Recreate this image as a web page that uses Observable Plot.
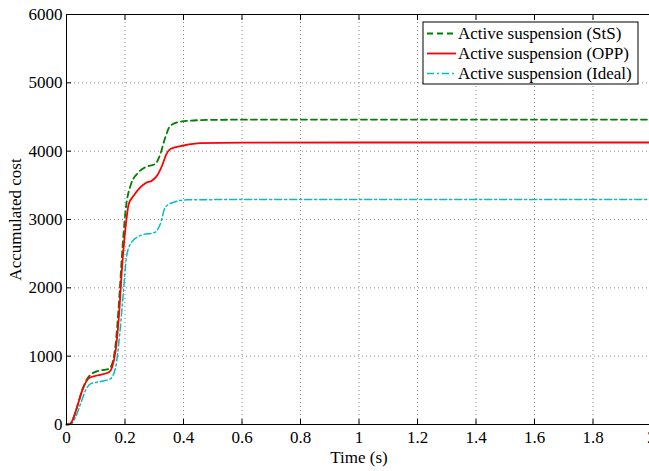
<!DOCTYPE html>
<html>
<head>
<meta charset="utf-8">
<script src="https://cdn.jsdelivr.net/npm/d3@7"></script>
<script src="https://cdn.jsdelivr.net/npm/@observablehq/plot@0.6"></script>
<style>
  html, body { margin: 0; padding: 0; background: #fff; overflow: hidden; }
  #chart svg { overflow: visible; }
</style>
</head>
<body>
<div id="chart"></div>
<script>
// ---- data ----
const stsTime = [0, 0.01, 0.017, 0.036, 0.054, 0.076, 0.105, 0.145, 0.156, 0.168, 0.179, 0.19, 0.202, 0.219, 0.247, 0.27, 0.304, 0.321, 0.338, 0.356, 0.401, 0.492, 0.7, 2.0];
const stsCost = [0, 5, 34, 255, 510, 700, 780, 815, 888, 1181, 1766, 2498, 3132, 3498, 3693, 3766, 3815, 3961, 4205, 4376, 4439, 4458, 4462, 4463];

const oppTime = [0, 0.01, 0.017, 0.036, 0.054, 0.076, 0.105, 0.145, 0.156, 0.168, 0.179, 0.19, 0.202, 0.213, 0.23, 0.253, 0.27, 0.293, 0.31, 0.327, 0.342, 0.356, 0.401, 0.458, 0.6, 1.0, 2.0];
const oppCost = [0, 5, 34, 253, 500, 678, 717, 765, 839, 1083, 1570, 2302, 2888, 3230, 3351, 3473, 3532, 3571, 3644, 3790, 3961, 4035, 4083, 4117, 4125, 4127, 4127];

const idealTime = [0, 0.015, 0.031, 0.048, 0.065, 0.082, 0.116, 0.15, 0.168, 0.182, 0.194, 0.205, 0.219, 0.253, 0.304, 0.321, 0.338, 0.367, 0.413, 0.6, 2.0];
const idealCost = [0, 5, 107, 303, 498, 595, 629, 668, 839, 1327, 1912, 2449, 2644, 2766, 2815, 2937, 3181, 3254, 3288, 3292, 3293];

const seriesNames = ["Active suspension (StS)", "Active suspension (OPP)", "Active suspension (Ideal)"];
const xTicks = [0, 0.2, 0.4, 0.6, 0.8, 1, 1.2, 1.4, 1.6, 1.8, 2];
const yTicks = [0, 1000, 2000, 3000, 4000, 5000, 6000];
const xLabel = "Time (s)";
const yLabel = "Accumulated cost";

// ---- build ----
const toRows = (t, c) => t.map((x, i) => ({x, y: c[i]}));
const sts = toRows(stsTime, stsCost);
const opp = toRows(oppTime, oppCost);
const ideal = toRows(idealTime, idealCost);

const styles = [
  {stroke: "#008000", dash: "6,4", width: 1.8},
  {stroke: "#ff0000", dash: null, width: 1.8},
  {stroke: "#00bfbf", dash: "7,3,2,3", width: 1.5}
];

const FONT = "Liberation Serif";

const chart = Plot.plot({
  width: 649,
  height: 471,
  marginLeft: 66, marginTop: 14, marginBottom: 47, marginRight: 0,
  x: {domain: [0, 2], range: [66, 651]},
  y: {domain: [0, 6000], range: [424, 14]},
  marks: [
    Plot.gridX(xTicks.slice(1, -1), {stroke: "#888", strokeOpacity: 1, strokeDasharray: "1,3", strokeWidth: 1}),
    Plot.gridY(yTicks.slice(1, -1), {stroke: "#888", strokeOpacity: 1, strokeDasharray: "1,3", strokeWidth: 1}),
    Plot.line(ideal, {x: "x", y: "y", stroke: styles[2].stroke, strokeWidth: styles[2].width, strokeDasharray: styles[2].dash, curve: "monotone-x"}),
    Plot.line(sts, {x: "x", y: "y", stroke: styles[0].stroke, strokeWidth: styles[0].width, strokeDasharray: styles[0].dash, curve: "monotone-x"}),
    Plot.line(opp, {x: "x", y: "y", stroke: styles[1].stroke, strokeWidth: styles[1].width, curve: "monotone-x"}),
    Plot.frame({stroke: "#000", strokeWidth: 1}),
    Plot.axisX(xTicks, {anchor: "bottom", tickSize: -5, tickPadding: 11, label: null, tickFormat: d => String(d), fontSize: 17}),
    Plot.axisX(xTicks, {anchor: "top", tickSize: -5, label: null, tickFormat: () => ""}),
    Plot.axisY(yTicks, {anchor: "left", tickSize: -5, tickPadding: 9, label: null, tickFormat: d => String(d), fontSize: 17}),
    Plot.text([xLabel], {x: () => 1.0, y: () => 0, lineAnchor: "top", dy: 26, fontSize: 17, fill: "#000"}),
    Plot.text([yLabel], {x: () => 0, y: () => 3000, rotate: -90, dx: -51, fontSize: 17, fill: "#000"})
  ]
});

document.getElementById("chart").appendChild(chart);

// ---- legend ----
const svg = d3.select(chart);
const lg = svg.append("g");
lg.append("rect").attr("x", 423).attr("y", 22).attr("width", 215).attr("height", 62)
  .attr("fill", "#fff").attr("stroke", "#000").attr("stroke-width", 1);
const rowsY = [33.5, 53.5, 73.5];
seriesNames.forEach((name, i) => {
  const s = styles[i];
  const l = lg.append("line").attr("x1", 427).attr("x2", 456).attr("y1", rowsY[i]).attr("y2", rowsY[i])
    .attr("stroke", s.stroke).attr("stroke-width", s.width);
  if (s.dash) l.attr("stroke-dasharray", s.dash);
  lg.append("text").attr("x", 458).attr("y", rowsY[i]).attr("dy", "0.35em").attr("fill", "#000")
    .style("text-anchor", "start").text(name);
});

// force the serif font on every text
svg.selectAll("text").style("font-family", FONT).style("font-size", "17px").style("fill", "#000");
</script>
</body>
</html>
